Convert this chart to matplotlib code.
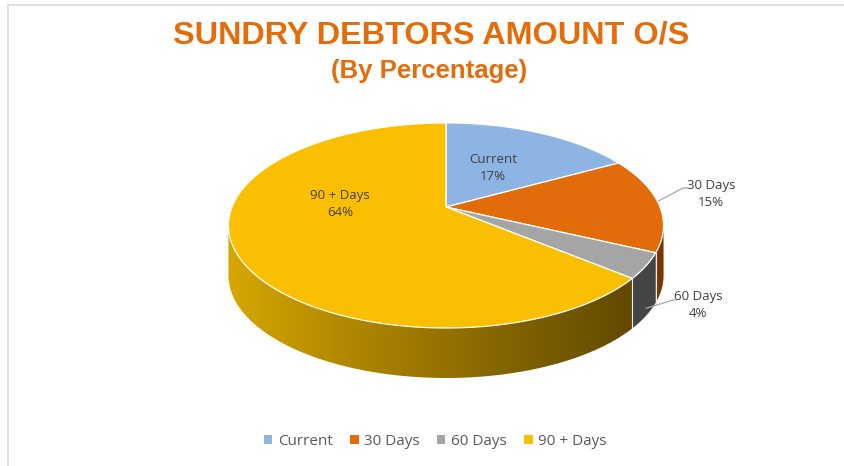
import numpy as np
import matplotlib
matplotlib.use("Agg")
import matplotlib.pyplot as plt
from matplotlib.patches import Polygon, Patch

# data
categories = ["Current", "30 Days", "60 Days", "90 + Days"]
percent = [17, 15, 4, 64]
top_colors = ["#8DB4E2", "#E26B0A", "#A5A5A5", "#FABF00"]
side_colors = ["#4F6F96", "#7A3500", "#454545", None]  # 90+ side uses a gradient

title = "SUNDRY DEBTORS AMOUNT O/S"
subtitle = "(By Percentage)"

# pie geometry in pixel space (perspective tilted disk)
cx, cy = 446, 207
fx, gy, persp = 214, 99.2, 0.18
depth = 50


def proj(theta, r=1.0, dz=0.0):
    # theta in degrees, clockwise from 12 o'clock
    t = np.radians(theta)
    u, w = r * np.sin(t), r * np.cos(t)
    d = 1 + persp * w
    return cx + fx * u / d, cy - gy * w / d + dz


fig = plt.figure(figsize=(8.45, 4.66), dpi=100)
ax = fig.add_axes([0, 0, 1, 1])
ax.set_xlim(0, 845)
ax.set_ylim(466, 0)
ax.axis("off")

# chart border (only top and left are visible in the crop)
ax.plot([8, 845], [5, 5], color="#D9D9D9", lw=1.2)
ax.plot([8, 8], [5, 466], color="#D9D9D9", lw=1.2)

bounds = np.concatenate([[0], np.cumsum(percent)]) * 3.6
sil_a = 90 + np.degrees(np.arcsin(persp))
sil_b = 270 - np.degrees(np.arcsin(persp))

# side walls
light = np.array([216, 168, 0]) / 255
dark = np.array([98, 73, 0]) / 255
for i in range(len(percent)):
    a0, a1 = max(bounds[i], sil_a), min(bounds[i + 1], sil_b)
    if a1 <= a0:
        continue
    arc = np.linspace(a0, a1, 200)
    upper = [proj(a) for a in arc]
    lower = [proj(a, dz=depth) for a in arc[::-1]]
    wall = upper + lower
    if side_colors[i] is None:
        xs = [p[0] for p in wall]
        ys = [p[1] for p in wall]
        k = np.linspace(0, 1, 256) ** 0.9
        grad = (light[None, :] * (1 - k[:, None]) + dark[None, :] * k[:, None])[None, :, :]
        patch = Polygon(wall, closed=True, facecolor="none", edgecolor="none")
        ax.add_patch(patch)
        im = ax.imshow(grad, extent=[min(xs), max(xs), max(ys), min(ys)],
                       aspect="auto", interpolation="bilinear", zorder=1)
        im.set_clip_path(patch)
    else:
        ax.add_patch(Polygon(wall, closed=True, facecolor=side_colors[i],
                             edgecolor="none", zorder=1))
    # light separator on the wall at slice boundaries
    if sil_a < bounds[i] < sil_b:
        p = proj(bounds[i])
        ax.plot([p[0], p[0]], [p[1], p[1] + depth], color="#EDEDED", lw=0.8, zorder=2)

ax.set_xlim(0, 845)
ax.set_ylim(466, 0)

# top faces
for i in range(len(percent)):
    arc = np.linspace(bounds[i], bounds[i + 1], 200)
    pts = [(cx, cy)] + [proj(a) for a in arc]
    ax.add_patch(Polygon(pts, closed=True, facecolor=top_colors[i],
                         edgecolor="white", lw=0.9, joinstyle="round", zorder=3))

lab_font = dict(fontsize=9.5, color="#404040", family=["Open Sans", "DejaVu Sans"],
                ha="center", va="center", linespacing=1.35, zorder=5)

# inside labels
ax.text(493, 168, f"{categories[0]}\n{percent[0]}%", **lab_font)
ax.text(340, 204, f"{categories[3]}\n{percent[3]}%", **lab_font)

# outside labels with leader lines
mid30 = (bounds[1] + bounds[2]) / 2
p = proj(mid30)
ax.plot([p[0], 683, 687], [p[1] - 3, 188, 188], color="#A6A6A6", lw=0.9, zorder=4)
ax.text(711, 194, f"{categories[1]}\n{percent[1]}%", **lab_font)

mid60 = (bounds[2] + bounds[3]) / 2
p = proj(mid60, dz=depth * 0.85)
ax.plot([p[0], 673, 676], [p[1], 300, 300], color="#A6A6A6", lw=0.9, zorder=4)
ax.text(698, 305, f"{categories[2]}\n{percent[2]}%", **lab_font)

# titles
ax.text(431, 36, title, fontsize=23.3, fontweight="bold", color="#E46C0A",
        family="Liberation Sans", ha="center", va="center")
ax.text(429, 71, subtitle, fontsize=18.5, fontweight="bold", color="#E46C0A",
        family="Liberation Sans", ha="center", va="center")

# legend
handles = [Patch(facecolor=c, edgecolor="none") for c in top_colors]
ax.legend(handles, categories, loc="center", bbox_to_anchor=(0.515, 0.053),
          ncol=4, frameon=False, handlelength=0.55, handleheight=0.55,
          handletextpad=0.35, columnspacing=1.15,
          prop={"family": "Open Sans", "size": 11}, labelcolor="#595959")

fig.savefig("out.png", dpi=100)
